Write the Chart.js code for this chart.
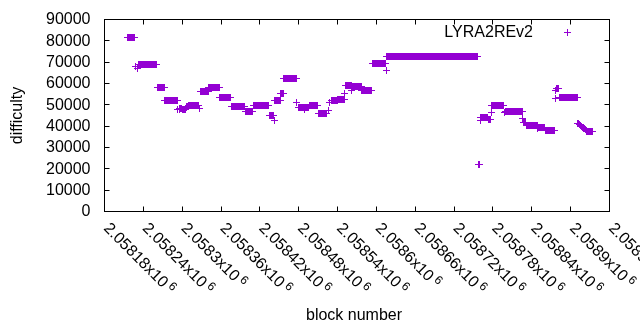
<!DOCTYPE html>
<html>
<head>
<meta charset="utf-8">
<script src="https://cdn.jsdelivr.net/npm/chart.js@4/dist/chart.umd.min.js"></script>
<style>
  html, body { margin: 0; padding: 0; background: #fff; }
  #wrap { width: 640px; height: 330px; }
</style>
</head>
<body>
<div id="wrap"><canvas id="diffChart" width="640" height="330"></canvas></div>
<script>
// runs of blocks with the same difficulty (first block, last block, difficulty)
const runFirst = [
  2058216, 2058229, 2058231, 2058233, 2058262, 2058274, 2058294, 2058296, 2058297, 2058301,
  2058307, 2058308, 2058311, 2058327, 2058329, 2058342, 2058359, 2058377, 2058398, 2058411,
  2058435, 2058443, 2058444, 2058453, 2058458, 2058478, 2058480, 2058490, 2058491, 2058497,
  2058511, 2058527, 2058529, 2058531, 2058541, 2058552, 2058553, 2058563, 2058564, 2058578,
  2058594, 2058616, 2058617, 2058758, 2058761, 2058762, 2058774, 2058778, 2058779, 2058798,
  2058800, 2058827, 2058828, 2058832, 2058850, 2058851, 2058862, 2058877, 2058878, 2058879,
  2058883, 2058912, 2058913, 2058914, 2058915, 2058916, 2058917, 2058918, 2058919, 2058920,
  2058921, 2058922, 2058923, 2058924, 2058925
];
const runLast = [
  2058227, 2058229, 2058231, 2058261, 2058273, 2058293, 2058294, 2058296, 2058300, 2058306,
  2058307, 2058310, 2058326, 2058327, 2058341, 2058358, 2058376, 2058397, 2058410, 2058434,
  2058442, 2058443, 2058452, 2058457, 2058477, 2058478, 2058489, 2058490, 2058496, 2058510,
  2058524, 2058527, 2058529, 2058540, 2058551, 2058552, 2058562, 2058563, 2058577, 2058593,
  2058615, 2058616, 2058757, 2058760, 2058761, 2058773, 2058777, 2058778, 2058797, 2058798,
  2058826, 2058827, 2058831, 2058849, 2058850, 2058861, 2058876, 2058877, 2058878, 2058882,
  2058911, 2058912, 2058913, 2058914, 2058915, 2058916, 2058917, 2058918, 2058919, 2058920,
  2058921, 2058922, 2058923, 2058924, 2058935
];
const runDifficulty = [
  81400, 67600, 66900, 68800, 58000, 51900, 47400, 47800, 48100, 47700,
  48300, 49000, 49400, 47900, 56100, 58000, 53300, 49200, 46700, 49500,
  44800, 42600, 51900, 55000, 62100, 51000, 48400, 47800, 48500, 49500,
  45900, 47300, 50800, 52000, 52300, 55200, 58900, 56300, 58300, 56700,
  69200, 65800, 72400, 21900, 42500, 43700, 42700, 46300, 49500, 46000,
  46800, 43500, 41300, 40000, 38700, 39100, 37700, 52800, 56700, 57400,
  53400, 41200, 40900, 40700, 40400, 40100, 39800, 39600, 39300, 39100,
  38900, 38700, 38400, 38100, 37500
];

const xTickValues = [2058180, 2058240, 2058300, 2058360, 2058420, 2058480, 2058540,
                     2058600, 2058660, 2058720, 2058780, 2058840, 2058900, 2058960];
const xTickLabels = ['2.05818', '2.05824', '2.0583', '2.05836', '2.05842', '2.05848', '2.05854',
                     '2.0586', '2.05866', '2.05872', '2.05878', '2.05884', '2.0589', '2.05896'];
const yTickValues = [0, 10000, 20000, 30000, 40000, 50000, 60000, 70000, 80000, 90000];

const seriesName = 'LYRA2REv2';
const purple = '#9400d3';
const fontFamily = '"Liberation Sans", Arial, sans-serif';

const points = [];
runFirst.forEach((first, i) => {
    for (let b = first; b <= runLast[i]; b++) {
        points.push({ x: b, y: runDifficulty[i] });
    }
});

// crisp 1px "+" like gnuplot's point type 1
const crossImg = document.createElement('canvas');
crossImg.width = 7;
crossImg.height = 7;
const cctx = crossImg.getContext('2d');
cctx.fillStyle = purple;
cctx.fillRect(0, 3, 7, 1);
cctx.fillRect(3, 0, 1, 7);

const gnuFrame = {
    id: 'gnuFrame',
    beforeDatasetsDraw(chart) {
        chart.ctx.imageSmoothingEnabled = false;
    },
    afterDatasetsDraw(chart) {
        chart.ctx.imageSmoothingEnabled = true;
    },
    afterDraw(chart) {
        const { ctx, chartArea: a, scales: { x, y } } = chart;
        const L = a.left + 0.5, R = a.right + 0.5, T = a.top + 0.5, B = a.bottom + 0.5;
        ctx.save();
        ctx.strokeStyle = '#000';
        ctx.lineWidth = 1;
        ctx.strokeRect(L, T, R - L, B - T);

        ctx.beginPath();
        yTickValues.forEach(v => {
            const py = Math.round(y.getPixelForValue(v)) + 0.5;
            ctx.moveTo(L, py); ctx.lineTo(L + 5, py);
            ctx.moveTo(R, py); ctx.lineTo(R - 5, py);
        });
        xTickValues.forEach(v => {
            const px = Math.round(x.getPixelForValue(v)) + 0.5;
            ctx.moveTo(px, B); ctx.lineTo(px, B - 5);
            ctx.moveTo(px, T); ctx.lineTo(px, T + 5);
        });
        ctx.stroke();

        ctx.fillStyle = '#000';
        ctx.font = '16px ' + fontFamily;
        ctx.textAlign = 'right';
        ctx.textBaseline = 'middle';
        yTickValues.forEach(v => {
            ctx.fillText(String(v), 90.5, y.getPixelForValue(v) + 1);
        });

        xTickValues.forEach((v, i) => {
            const px = x.getPixelForValue(v);
            ctx.save();
            ctx.translate(px + 2, 226);
            ctx.rotate(Math.PI / 4);
            ctx.textAlign = 'left';
            ctx.textBaseline = 'middle';
            ctx.font = '16px ' + fontFamily;
            const txt = xTickLabels[i] + 'x10';
            ctx.fillText(txt, 0, 0);
            const w = ctx.measureText(txt).width;
            ctx.font = '12px ' + fontFamily;
            ctx.fillText('6', w + 3, -4);
            ctx.restore();
        });

        ctx.font = '16px ' + fontFamily;
        ctx.textAlign = 'center';
        ctx.textBaseline = 'alphabetic';
        ctx.fillText('block number', 354, 320);

        ctx.save();
        ctx.translate(22, 115.5);
        ctx.rotate(-Math.PI / 2);
        ctx.fillText('difficulty', 0, 0);
        ctx.restore();

        // key
        ctx.textAlign = 'right';
        ctx.fillText(seriesName, 533, 37);
        ctx.imageSmoothingEnabled = false;
        ctx.drawImage(crossImg, 564, 29);
        ctx.restore();
    }
};

new Chart(document.getElementById('diffChart'), {
    type: 'scatter',
    data: {
        datasets: [{
            label: seriesName,
            data: points,
            pointStyle: crossImg,
            borderColor: purple,
            backgroundColor: purple,
            showLine: false
        }]
    },
    options: {
        responsive: false,
        animation: false,
        events: [],
        layout: { padding: { left: 0, right: 31, top: 19, bottom: 0 } },
        plugins: {
            legend: { display: false },
            tooltip: { enabled: false }
        },
        scales: {
            x: {
                type: 'linear',
                min: 2058180,
                max: 2058960,
                grid: { display: false, drawTicks: false },
                border: { display: false },
                ticks: { display: false, stepSize: 60 },
                afterFit: s => { s.height = 119; }
            },
            y: {
                min: 0,
                max: 90000,
                grid: { display: false, drawTicks: false },
                border: { display: false },
                ticks: { display: false, stepSize: 10000 },
                afterFit: s => { s.width = 104; }
            }
        }
    },
    plugins: [gnuFrame]
});
</script>
</body>
</html>
